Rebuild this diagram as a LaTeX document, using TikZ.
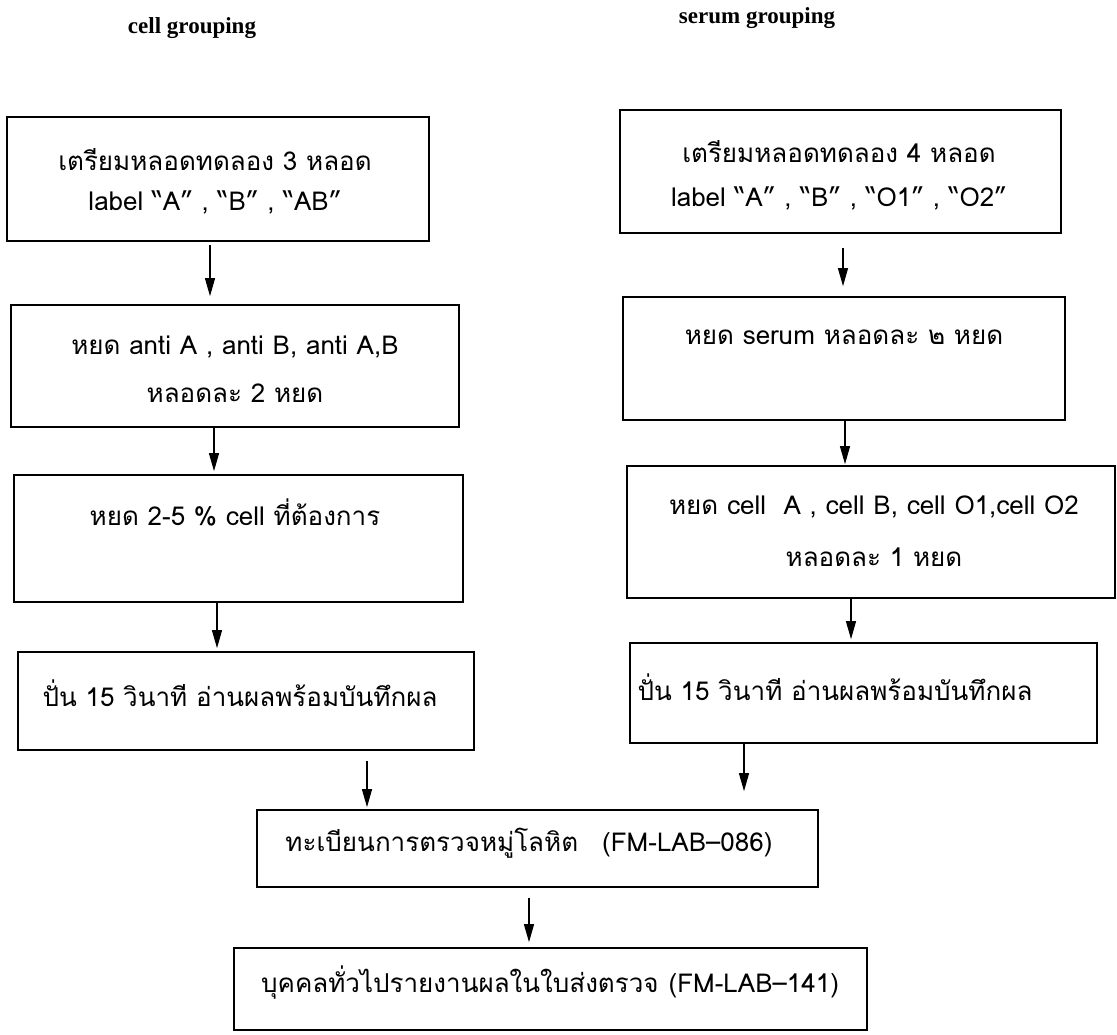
\documentclass[tikz,border=0pt]{standalone}
\usepackage{fontspec}
\setmainfont{Loma}[Script=Thai]
\newfontfamily\titlefont{Liberation Serif}
\usetikzlibrary{arrows.meta}
\tikzset{
  box/.style={draw, line width=1.7pt, inner sep=0pt, rectangle},
  txt/.style={inner sep=0pt, align=center, font=\fontsize{26}{40}\selectfont},
  ttl/.style={inner sep=0pt, font=\titlefont\bfseries\fontsize{23}{26}\selectfont},
  arr/.style={line width=1.1pt, -{Triangle[length=18pt,width=10pt]}}
}
\begin{document}
\begin{tikzpicture}[x=1pt,y=-1pt]
\useasboundingbox (0,0) rectangle (1117,1034);
% titles
\node[ttl] (t1) at (192,28) {cell grouping};
\node[ttl] (t2) at (757,18) {serum grouping};
% boxes
\node[box, minimum width=422pt, minimum height=124pt] (L1) at (218,179) {};
\node[box, minimum width=448pt, minimum height=122pt] (L2) at (235,366) {};
\node[box, minimum width=449pt, minimum height=127pt] (L3) at (238.5,538.5) {};
\node[box, minimum width=456pt, minimum height=98pt] (L4) at (246,701) {};
\node[box, minimum width=441pt, minimum height=123pt] (R1) at (840.5,171.5) {};
\node[box, minimum width=442pt, minimum height=123pt] (R2) at (844,358.5) {};
\node[box, minimum width=488pt, minimum height=132pt] (R3) at (871,532) {};
\node[box, minimum width=467pt, minimum height=100pt] (R4) at (863.5,693) {};
\node[box, minimum width=561pt, minimum height=77pt] (M1) at (537.5,848.5) {};
\node[box, minimum width=633pt, minimum height=82pt] (M2) at (550.5,989) {};
% texts
\node[txt, font=\fontsize{26}{40}\selectfont] (l1t) at (215,181) {เตรียมหลอดทดลอง 3 หลอด\\label “A” , “B” , “AB”};
\node[txt, font=\fontsize{26}{48}\selectfont] (l2t) at (235,369) {หยด anti A , anti B, anti A,B\\หลอดละ 2 หยด};
\node[txt] (l3t) at (235,512) {หยด 2-5 \% cell ที่ต้องการ};
\node[txt] (l4t) at (240,693) {ปั่น 15 วินาที อ่านผลพร้อมบันทึกผล};
\node[txt, font=\fontsize{26}{44}\selectfont] (r1t) at (839,175) {เตรียมหลอดทดลอง 4 หลอด\\label “A” , “B” , “O1” , “O2”};
\node[txt] (r2t) at (844,337) {หยด serum หลอดละ ๒ หยด};
\node[txt, font=\fontsize{26}{52}\selectfont] (r3t) at (874,531) {หยด cell\ \ A , cell B, cell O1,cell O2\\หลอดละ 1 หยด};
\node[txt] (r4t) at (835,687) {ปั่น 15 วินาที อ่านผลพร้อมบันทึกผล};
\node[txt] (m1t) at (529,843) {ทะเบียนการตรวจหมู่โลหิต\hspace{24pt}(FM-LAB–086)};
\node[txt] (m2t) at (550,983) {บุคคลทั่วไปรายงานผลในใบส่งตรวจ\hspace{10pt}(FM-LAB–141)};
% arrows
\draw[arr, shorten <=3pt, shorten >=8pt] ([xshift=-8pt]L1.south) -- ([xshift=-8pt]L1.south |- L2.north);
\draw[arr, shorten >=3pt] ([xshift=-21pt]L2.south) -- ([xshift=-21pt]L2.south |- L3.north);
\draw[arr, shorten >=3pt] ([xshift=-21.5pt]L3.south) -- ([xshift=-21.5pt]L3.south |- L4.north);
\draw[arr, shorten <=10pt, shorten >=2pt] ([xshift=121pt]L4.south) -- ([xshift=121pt]L4.south |- M1.north);
\draw[arr, shorten <=14pt, shorten >=10pt] ([xshift=2.5pt]R1.south) -- ([xshift=2.5pt]R1.south |- R2.north);
\draw[arr, shorten >=1pt] ([xshift=1pt]R2.south) -- ([xshift=1pt]R2.south |- R3.north);
\draw[arr, shorten >=3pt] ([xshift=-20pt]R3.south) -- ([xshift=-20pt]R3.south |- R4.north);
\draw[arr, shorten >=18pt] ([xshift=-119.5pt]R4.south) -- ([xshift=-119.5pt]R4.south |- M1.north);
\draw[arr, shorten <=10pt, shorten >=5pt] ([xshift=-8.5pt]M1.south) -- ([xshift=-8.5pt]M1.south |- M2.north);
\end{tikzpicture}
\end{document}
